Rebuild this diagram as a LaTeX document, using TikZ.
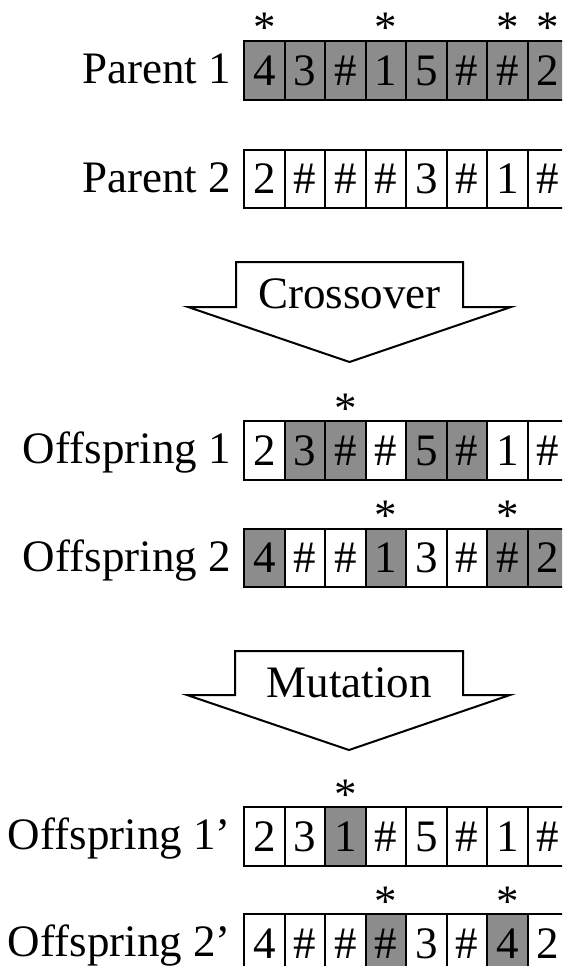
\documentclass[tikz,border=0pt]{standalone}
\usepackage{fontspec}
\setmainfont{Liberation Serif}
\newcommand\generow[4]{% #1 name, #2 top y, #3 label, #4 cell list
  \foreach \c/\s [count=\i from 0] in {#4} {
    \node[cell, \s] (#1c\i) at ({243+40.5*\i}, #2) {\c};
  }
  \node[lbl] (#1lab) at (231, #2+43.75) {#3};
}
\newcommand\aster[2]{% #1 cell node name, #2 asterisk name
  \node[ast] (#2) at ([yshift=-3pt]#1.north) {*};
}
\begin{document}
\begin{tikzpicture}[x=1pt,y=-1pt,
  cell/.style={draw, line width=2.2pt, minimum width=40.5pt, minimum height=58.5pt,
    inner sep=0pt, anchor=north west, text height=30pt, text depth=0pt,
    font=\fontsize{45}{54}\selectfont},
  sh/.style={fill=black!45},
  wh/.style={fill=white},
  lbl/.style={anchor=base east, inner sep=0pt, font=\fontsize{45}{54}\selectfont},
  ast/.style={anchor=base, inner sep=0pt, font=\fontsize{45}{54}\selectfont},
  bigarrow/.style={draw, line width=2pt, line join=miter, fill=white},
  albl/.style={anchor=base, inner sep=0pt, font=\fontsize{45}{54}\selectfont}
]
\useasboundingbox (0,0) rectangle (562,966);
\clip (0,0) rectangle (562,966);

% Parent 1
\generow{pa}{40}{Parent 1}{4/sh,3/sh,\#/sh,1/sh,5/sh,\#/sh,\#/sh,2/sh}
\aster{pac0}{paa0}\aster{pac3}{paa3}\aster{pac6}{paa6}\aster{pac7}{paa7}

% Parent 2
\generow{pb}{148.5}{Parent 2}{2/wh,\#/wh,\#/wh,\#/wh,3/wh,\#/wh,1/wh,\#/wh}

% Crossover arrow
\draw[bigarrow] (236,262) -- (463,262) -- (463,307) -- (511,307) -- (349.5,362)
  -- (188,307) -- (236,307) -- cycle;
\node[albl] (cross) at (349.5,308) {Crossover};

% Offspring 1
\generow{oa}{420}{Offspring 1}{2/wh,3/sh,\#/sh,\#/wh,5/sh,\#/sh,1/wh,\#/wh}
\aster{oac2}{oaa2}

% Offspring 2
\generow{ob}{527.5}{Offspring 2}{4/sh,\#/wh,\#/wh,1/sh,3/wh,\#/wh,\#/sh,2/sh}
\aster{obc3}{oba3}\aster{obc6}{oba6}

% Mutation arrow
\draw[bigarrow] (235,651) -- (463,651) -- (463,695) -- (510,695) -- (349,750)
  -- (187,695) -- (235,695) -- cycle;
\node[albl] (mut) at (349,697) {Mutation};

% Offspring 1'
\generow{ma}{806}{Offspring 1’}{2/wh,3/wh,1/sh,\#/wh,5/wh,\#/wh,1/wh,\#/wh}
\aster{mac2}{maa2}

% Offspring 2'
\generow{mb}{913}{Offspring 2’}{4/wh,\#/wh,\#/wh,\#/sh,3/wh,\#/wh,4/sh,2/wh}
\aster{mbc3}{mba3}\aster{mbc6}{mba6}
\end{tikzpicture}
\end{document}
